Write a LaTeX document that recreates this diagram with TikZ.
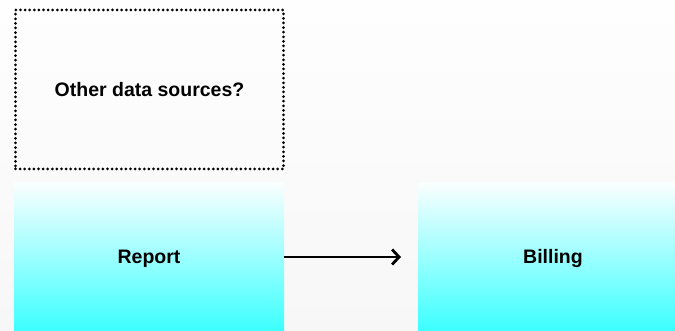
\documentclass[tikz,border=0pt]{standalone}
\usepackage{fontspec}
\setmainfont{Liberation Sans}
\usetikzlibrary{arrows.meta}
\definecolor{bgtop}{HTML}{FEFEFE}
\definecolor{bgbot}{HTML}{F7F7F7}
\definecolor{cyantop}{HTML}{FAFEFE}
\definecolor{cyanbot}{HTML}{3CFFFF}
\tikzset{
  lbl/.style={font=\bfseries\fontsize{19.5}{22}\selectfont, text=black},
  dotbox/.style={draw=black, line width=3pt, line cap=round, dash pattern=on 0pt off 4.6pt, minimum width=268pt, minimum height=159pt, inner sep=0pt, lbl},
  gradbox/.style={top color=cyantop, bottom color=cyanbot, draw=none, inner sep=0pt, lbl},
  conn/.style={line width=2.8pt, -{Straight Barb[length=7pt,width=15pt,line width=2.8pt]}}
}
\begin{document}
\begin{tikzpicture}[x=1pt,y=1pt]
\shade[top color=bgtop, bottom color=bgbot] (0,0) rectangle (675,331);
\useasboundingbox (0,0) rectangle (675,331);
\node[dotbox] (other) at (149.5,241.5) {Other data sources?};
\node[gradbox, minimum width=270pt, minimum height=148pt] (report) at (149,74) {};
\node[lbl] at (149,72.5) {Report};
\node[gradbox, minimum width=257pt, minimum height=148pt] (billing) at (546.5,74) {};
\node[lbl] at (553,72.5) {Billing};
\draw[conn] (report.east |- 0,74) -- (401,74) coordinate (tipend);
\end{tikzpicture}
\end{document}
